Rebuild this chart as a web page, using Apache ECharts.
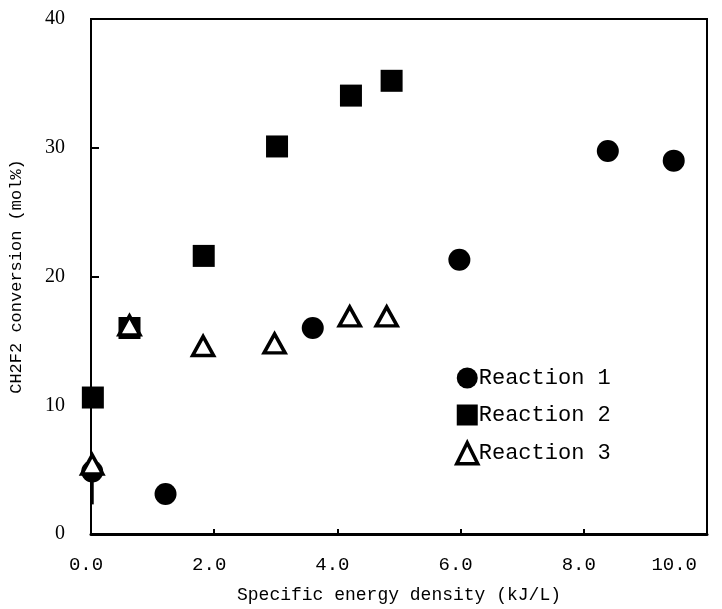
<!DOCTYPE html>
<html><head><meta charset="utf-8">
<script src="https://cdn.jsdelivr.net/npm/echarts@6/dist/echarts.min.js"></script>
<style>html,body{margin:0;padding:0;background:#fff}#c{width:722px;height:609px}</style>
</head><body><div id="c"></div>
<script>
var xTicks = [0, 2, 4, 6, 8, 10];
var yTicks = [0, 10, 20, 30, 40];
var seriesNames = ['Reaction 1', 'Reaction 2', 'Reaction 3'];
var r1X = [0.02, 1.21, 3.6, 5.98, 8.39, 9.46];
var r1Y = [4.86, 3.1, 16.0, 21.3, 29.75, 29.0];
var r2X = [0.03, 0.625, 1.83, 3.02, 4.22, 4.88];
var r2Y = [10.6, 16.0, 21.6, 30.1, 34.05, 35.2];
var r3X = [0.02, 0.625, 1.82, 2.98, 4.2, 4.8];
var r3Y = [5.4, 16.2, 14.6, 14.8, 16.9, 16.9];
var errX = [0.02];
var errLow = [2.3];
var errHigh = [4.86];

function pairs(xs, ys){ return xs.map(function(x,i){ return [x, ys[i]]; }); }

var chart = echarts.init(document.getElementById('c'));
var mono = 'Liberation Mono';
chart.setOption({
  animation: false,
  backgroundColor: '#fff',
  grid: { left: 88, right: 15, top: 19, bottom: 72, show: true, borderColor: '#000', borderWidth: 2 },
  legend: {
    orient: 'vertical', left: 450, top: 362, itemGap: 15, itemWidth: 21, itemHeight: 21,
    textStyle: { fontFamily: mono, fontSize: 22, color: '#000', padding: [0,0,0,-4] },
    data: [
      { name: seriesNames[0] },
      { name: seriesNames[1] },
      { name: seriesNames[2], itemStyle: { color: '#fff', borderColor: '#000', borderWidth: 3.5 } }
    ]
  },
  xAxis: {
    type: 'value', min: xTicks[0], max: xTicks[xTicks.length-1], interval: 2,
    name: 'Specific energy density (kJ/L)', nameLocation: 'middle', nameGap: 52,
    nameTextStyle: { fontFamily: mono, fontSize: 18, color: '#000' },
    axisLine: { lineStyle: { color: '#000', width: 3 } },
    axisTick: { inside: true, length: 5, lineStyle: { color: '#000', width: 2 } },
    splitLine: { show: false },
    axisLabel: { fontFamily: mono, fontSize: 19, color: '#000', margin: 21, padding: [0,10,0,0],
      alignMaxLabel: 'right',
      formatter: function(v){ return v.toFixed(1); } }
  },
  yAxis: {
    type: 'value', min: yTicks[0], max: yTicks[yTicks.length-1], interval: 10,
    name: 'CH2F2 conversion (mol%)', nameLocation: 'middle', nameGap: 66, nameRotate: 90,
    nameTextStyle: { fontFamily: mono, fontSize: 17, color: '#000' },
    axisLine: { lineStyle: { color: '#000', width: 1.5 } },
    axisTick: { inside: true, length: 8, lineStyle: { color: '#000', width: 2 } },
    splitLine: { show: false },
    axisLabel: { fontFamily: 'Liberation Serif', fontSize: 20, color: '#000', margin: 26 }
  },
  series: [
    { name: 'Reaction 1', type: 'scatter', symbol: 'circle', symbolSize: 22,
      itemStyle: { color: '#000', opacity: 1 }, data: pairs(r1X, r1Y), z: 3 },
    { name: 'Reaction 2', type: 'scatter', symbol: 'rect', symbolSize: 22,
      itemStyle: { color: '#000', opacity: 1 }, data: pairs(r2X, r2Y), z: 4 },
    { name: 'Reaction 3', type: 'scatter', symbol: 'triangle', symbolSize: [21, 19],
      itemStyle: { color: '#fff', borderColor: '#000', borderWidth: 3.5, opacity: 1 },
      data: pairs(r3X, r3Y), z: 5 },
    { type: 'custom', z: 2, silent: true,
      data: errX.map(function(x,i){ return [x, errLow[i], errHigh[i]]; }),
      renderItem: function(params, api){
        var p1 = api.coord([api.value(0), api.value(1)]);
        var p2 = api.coord([api.value(0), api.value(2)]);
        return { type: 'line', shape: { x1: p1[0], y1: p1[1], x2: p2[0], y2: p2[1] },
          style: { stroke: '#000', lineWidth: 3 } };
      } }
  ]
});
</script></body></html>
